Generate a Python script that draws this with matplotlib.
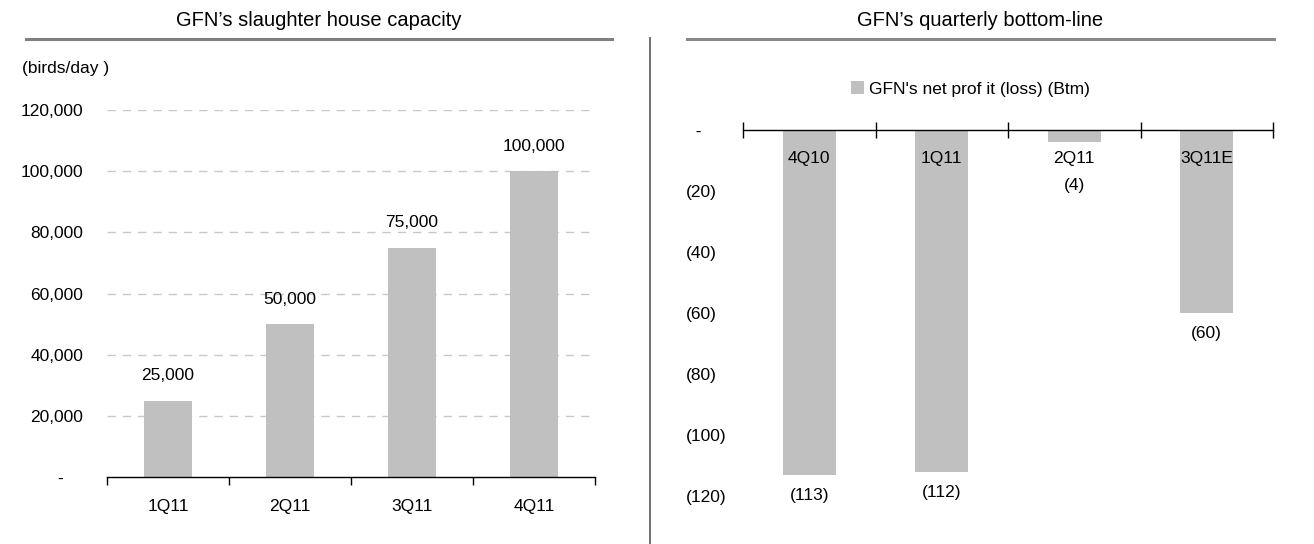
import matplotlib
matplotlib.use("Agg")
import matplotlib.pyplot as plt
from matplotlib.lines import Line2D
from matplotlib.ticker import FixedLocator, FuncFormatter

plt.rcParams['font.family'] = ['Liberation Sans', 'DejaVu Sans']

# ---- data ----
cap_quarters = ["1Q11", "2Q11", "3Q11", "4Q11"]
cap_values = [25000, 50000, 75000, 100000]
cap_yticks = [0, 20000, 40000, 60000, 80000, 100000, 120000]

np_quarters = ["4Q10", "1Q11", "2Q11", "3Q11E"]
np_values = [-113, -112, -4, -60]
np_yticks = [0, -20, -40, -60, -80, -100, -120]

W, H = 1314, 544
fig = plt.figure(figsize=(W / 100, H / 100), dpi=100)

BAR = '#C0C0C0'
FS = 12.5
TFS = 14.5

def px(x0, y_top, x1, y_bot):
    return [x0 / W, 1 - y_bot / H, (x1 - x0) / W, (y_bot - y_top) / H]

# ---- left chart ----
ax1 = fig.add_axes(px(107, 110, 595, 477))
xs = range(len(cap_quarters))
ax1.bar(xs, cap_values, width=0.4, color=BAR, zorder=2)
ax1.set_xlim(-0.5, len(cap_quarters) - 0.5)
ax1.set_ylim(0, 120000)
ax1.set_axisbelow(True)
for s in ['top', 'left', 'right']:
    ax1.spines[s].set_visible(False)
ax1.spines['bottom'].set_linewidth(1)
ax1.set_xticks(list(xs))
ax1.set_xticklabels(cap_quarters, fontsize=FS)
ax1.tick_params(axis='x', which='major', length=0, pad=16)
ax1.xaxis.set_minor_locator(FixedLocator([i - 0.5 for i in range(len(cap_quarters) + 1)]))
ax1.tick_params(axis='x', which='minor', length=6, width=1, direction='out')
ax1.set_yticks(cap_yticks)
ax1.yaxis.set_major_formatter(FuncFormatter(lambda v, p: "-    " if v == 0 else f"{int(v):,}"))
ax1.tick_params(axis='y', length=0, pad=17, labelsize=FS)
ax1.grid(axis='y', color='#C8C8C8', linestyle=(0, (6, 5)), linewidth=1)
ax1.yaxis.get_gridlines()[0].set_visible(False)
for i, v in enumerate(cap_values):
    ax1.annotate(f"{v:,}", (i, v), xytext=(0, 18), textcoords='offset points',
                 ha='center', va='center', fontsize=FS)
fig.text(22 / W, 1 - 68 / H, "(birds/day )", fontsize=FS, ha='left', va='center')

# ---- right chart ----
ax2 = fig.add_axes(px(743, 130, 1273, 496))
xs2 = range(len(np_quarters))
ax2.bar(xs2, np_values, width=0.4, color=BAR, label="GFN's net prof it (loss) (Btm)")
ax2.set_xlim(-0.5, len(np_quarters) - 0.5)
ax2.set_ylim(-120, 0)
for s in ['top', 'left', 'right']:
    ax2.spines[s].set_visible(False)
ax2.spines['bottom'].set_position(('data', 0))
ax2.spines['bottom'].set_linewidth(1)
ax2.set_xticks(list(xs2))
ax2.set_xticklabels(np_quarters, fontsize=FS)
ax2.tick_params(axis='x', which='major', length=0, pad=15)
ax2.xaxis.set_minor_locator(FixedLocator([i - 0.5 for i in range(len(np_quarters) + 1)]))
ax2.tick_params(axis='x', which='minor', length=12, width=1, direction='inout')
ax2.set_yticks(np_yticks)
ax2.yaxis.set_major_formatter(FuncFormatter(lambda v, p: "  -" if v == 0 else f"({int(-v)})"))
ax2.tick_params(axis='y', length=0, pad=41, labelsize=FS)
for lab in ax2.get_yticklabels():
    lab.set_horizontalalignment('left')
offsets = [-15, -15, -31, -15]
for i, v in enumerate(np_values):
    ax2.annotate(f"({-v})", (i, v), xytext=(0, offsets[i]), textcoords='offset points',
                 ha='center', va='center', fontsize=FS)
fig.legend(loc='center left', bbox_to_anchor=(851 / W, 1 - 89 / H), frameon=False,
           fontsize=FS, handlelength=0.75, handleheight=0.75, handletextpad=0.3,
           borderpad=0, borderaxespad=0)

# ---- titles, rules, separator ----
fig.text(319 / W, 1 - 21 / H, "GFN\u2019s slaughter house capacity", fontsize=TFS, ha='center', va='center')
fig.text(980 / W, 1 - 21 / H, "GFN\u2019s quarterly bottom-line", fontsize=TFS, ha='center', va='center')
fig.add_artist(Line2D([26 / W, 612 / W], [1 - 39 / H, 1 - 39 / H], color='#808080', linewidth=2.2,
                      transform=fig.transFigure))
fig.add_artist(Line2D([687 / W, 1274 / W], [1 - 39 / H, 1 - 39 / H], color='#8A8A8A', linewidth=2.2,
                      transform=fig.transFigure))
fig.add_artist(Line2D([650 / W, 650 / W], [1 - 38 / H, 0], color='#707070', linewidth=1.4,
                      transform=fig.transFigure))

fig.savefig("out.png", dpi=100)
